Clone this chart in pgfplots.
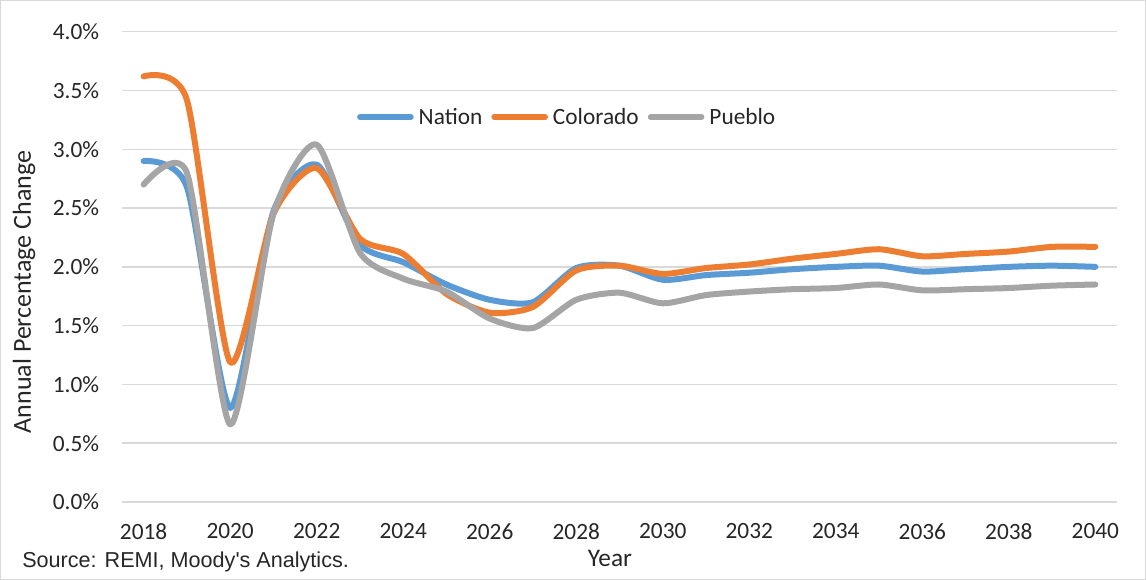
\documentclass[border=0pt]{standalone}
\usepackage{pgfplots}
\pgfplotsset{compat=1.18}
\usepackage{fontspec}
\setmainfont{Carlito}
\newfontfamily\arialfont{Liberation Sans}
\definecolor{cNation}{HTML}{5B9BD5}
\definecolor{cColorado}{HTML}{ED7D31}
\definecolor{cPueblo}{HTML}{A5A5A5}
\definecolor{gridc}{HTML}{D9D9D9}
\definecolor{txt}{HTML}{262626}

\pgfplotstableread{
year nation colorado pueblo
2018 2.90 3.62 2.70
2019 2.68 3.42 2.80
2020 0.80 1.19 0.66
2021 2.47 2.45 2.45
2022 2.87 2.84 3.04
2023 2.19 2.24 2.12
2024 2.04 2.11 1.90
2025 1.85 1.77 1.79
2026 1.72 1.61 1.56
2027 1.70 1.66 1.48
2028 1.99 1.97 1.72
2029 2.01 2.01 1.78
2030 1.89 1.94 1.69
2031 1.93 1.99 1.76
2032 1.95 2.02 1.79
2033 1.98 2.07 1.81
2034 2.00 2.11 1.82
2035 2.01 2.15 1.85
2036 1.96 2.09 1.80
2037 1.98 2.11 1.81
2038 2.00 2.13 1.82
2039 2.01 2.17 1.84
2040 2.00 2.17 1.85
}\datatable

\begin{document}
\begin{tikzpicture}
\path[use as bounding box] (0pt,0pt) rectangle (859.5pt,435pt);
\draw[gridc, line width=0.9pt] (0.6pt,0.6pt) rectangle (858.9pt,434.4pt);
\begin{axis}[
  at={(91.5pt,58.5pt)}, anchor=south west,
  scale only axis, width=746.25pt, height=352.7pt,
  xmin=2017.5, xmax=2040.5, ymin=0, ymax=4,
  axis line style={draw=none},
  major tick length=0pt,
  ymajorgrids, grid style={gridc, line width=1.1pt},
  xtick={2018,2020,2022,2024,2026,2028,2030,2032,2034,2036,2038,2040},
  xticklabels={2018,2020,2022,2024,2026,2028,2030,2032,2034,2036,2038,2040},
  ytick={0,0.5,1,1.5,2,2.5,3,3.5,4},
  yticklabels={0.0\%,0.5\%,1.0\%,1.5\%,2.0\%,2.5\%,3.0\%,3.5\%,4.0\%},
  tick label style={font=\fontsize{17.5}{20}\selectfont, text=txt, inner sep=0pt},
  yticklabel style={anchor=east, xshift=-17pt},
  xticklabel style={anchor=north, yshift=-16pt},
  legend style={at={(0.236,0.8186)}, anchor=west, draw=none, fill=none,
    inner sep=0pt, font=\fontsize{17.5}{20}\selectfont, text=txt,
    legend columns=3,
    nodes={inner sep=0pt},
    /tikz/every odd column/.append style={column sep=3.75pt},
    /tikz/every even column/.append style={column sep=6.75pt}},
  legend image code/.code={\draw[line width=4.5pt, line cap=round, #1] (2.25pt,0pt) -- (40.25pt,0pt);},
  every axis plot/.append style={line width=4.5pt, line cap=round, line join=round, smooth, tension=0.42, no markers},
]
\addplot[cNation] table[x=year, y=nation] {\datatable};
\addlegendentry{Nation}
\addplot[cColorado] table[x=year, y=colorado] {\datatable};
\addlegendentry{Colorado}
\addplot[cPueblo] table[x=year, y=pueblo] {\datatable};
\addlegendentry{Pueblo}
\end{axis}
\node[rotate=90, text=txt, font=\fontsize{19.5}{22}\selectfont, inner sep=0pt] at (18pt,216pt) {Annual Percentage Change};
\node[text=txt, font=\fontsize{19}{22}\selectfont, inner sep=0pt] at (457.5pt,16.5pt) {Year};
\node[anchor=west, text=txt, font=\arialfont\fontsize{16.2}{19}\selectfont, inner sep=0pt] at (16.5pt,13.5pt) {Source: REMI, Moody's Analytics.};
\end{tikzpicture}
\end{document}
